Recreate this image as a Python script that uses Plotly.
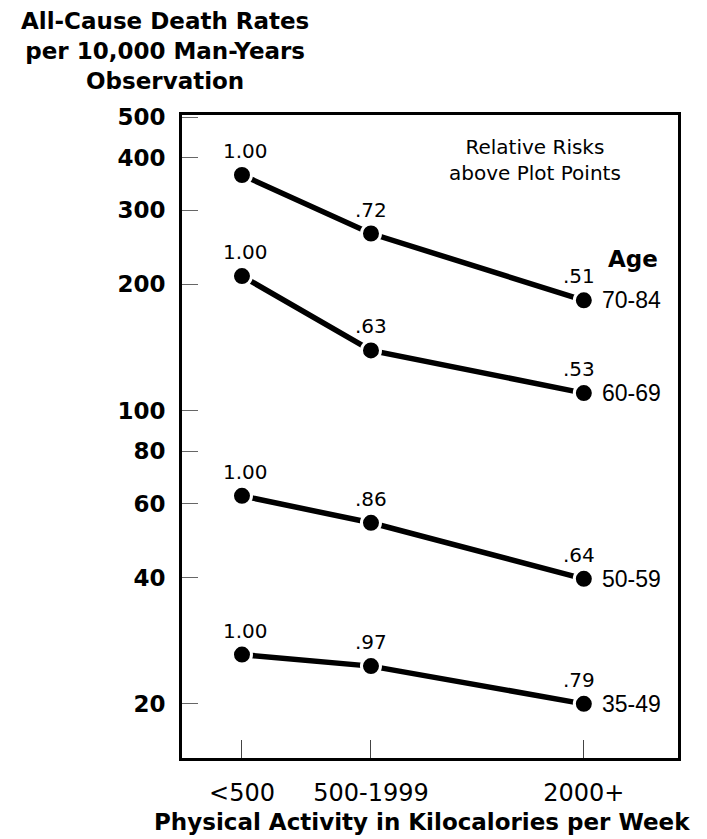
import numpy as np
import plotly.graph_objects as go

# ---- data ----
activity_labels = ["<500", "500-1999", "2000+"]
activity_pos = [0, 1, 2.65]          # positions of the activity classes on the x scale
age_groups = ["70-84", "60-69", "50-59", "35-49"]
death_rates = {
    "70-84": [364, 264, 183],
    "60-69": [209, 139, 110],
    "50-59": [62.6, 54.0, 39.7],
    "35-49": [26.2, 24.6, 20.0],
}
relative_risks = {
    "70-84": ["1.00", ".72", ".51"],
    "60-69": ["1.00", ".63", ".53"],
    "50-59": ["1.00", ".86", ".64"],
    "35-49": ["1.00", ".97", ".79"],
}
y_tickvals = [20, 40, 60, 80, 100, 200, 300, 400, 500]

FONT = "DejaVu Sans"
fig = go.Figure()

annotations = []
rr_xshift = [4, 0, -5]
for age in age_groups:
    fig.add_trace(go.Scatter(
        x=activity_pos, y=death_rates[age], mode="lines+markers",
        line=dict(color="black", width=5.5),
        marker=dict(size=19, color="black", line=dict(color="white", width=3)),
        showlegend=False, hoverinfo="skip",
    ))
    for i, (xv, yv) in enumerate(zip(activity_pos, death_rates[age])):
        annotations.append(dict(
            x=xv, y=np.log10(yv), xref="x", yref="y", text=relative_risks[age][i],
            showarrow=False, yshift=24, xshift=rr_xshift[i],
            xanchor="center", yanchor="middle",
            font=dict(family=FONT, size=20, color="black"),
        ))
    annotations.append(dict(
        x=activity_pos[-1], y=np.log10(death_rates[age][-1]), xref="x", yref="y",
        text=age, showarrow=False, xanchor="left", yanchor="middle", xshift=16,
        font=dict(family="Liberation Sans", size=23, color="black"),
    ))

annotations += [
    dict(x=0.712, y=0.930, xref="paper", yref="paper", xanchor="center", yanchor="middle",
         text="Relative Risks<br>above Plot Points",
         showarrow=False, align="center", font=dict(family=FONT, size=20, color="black")),
    dict(x=0.909, y=0.776, xref="paper", yref="paper", xanchor="center", yanchor="middle",
         text="<b>Age</b>",
         showarrow=False, font=dict(family=FONT, size=23, color="black")),
    dict(x=-0.034, y=1.099, xref="paper", yref="paper", xanchor="center", yanchor="middle",
         text="<b>All-Cause Death Rates<br>per 10,000 Man-Years<br>Observation</b>",
         showarrow=False, align="center", font=dict(family=FONT, size=23, color="black")),
    dict(x=0.484, y=-0.0995, xref="paper", yref="paper", xanchor="center", yanchor="middle",
         text="<b>Physical Activity in Kilocalories per Week</b>",
         showarrow=False, font=dict(family=FONT, size=23, color="black")),
]

fig.update_layout(
    width=699, height=831,
    margin=dict(l=174, r=29, t=107, b=81),
    paper_bgcolor="white", plot_bgcolor="white",
    annotations=annotations,
    xaxis=dict(
        range=[-0.465, 3.38], tickvals=activity_pos, ticktext=activity_labels,
        showgrid=False, zeroline=False, showline=True, mirror=True,
        linecolor="black", linewidth=3, ticks="inside", ticklen=18, tickwidth=1,
        tickcolor="#444", ticklabelstandoff=11,
        tickfont=dict(family=FONT, size=24, color="black"),
    ),
    yaxis=dict(
        type="log", range=[1.172, 2.704], tickvals=y_tickvals,
        ticktext=[str(v) for v in y_tickvals],
        showgrid=False, zeroline=False, showline=True, mirror=True,
        linecolor="black", linewidth=3, ticks="inside", ticklen=16, tickwidth=1,
        tickcolor="#666", ticklabelstandoff=9,
        tickfont=dict(family=FONT, size=23, color="black", weight="bold"),
    ),
)

fig.write_html("out.html")
